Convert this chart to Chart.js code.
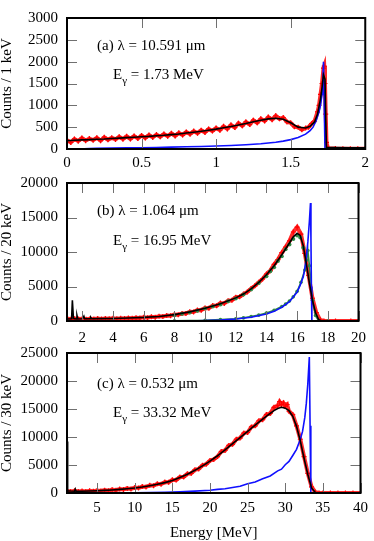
<!DOCTYPE html>
<html>
<head>
<meta charset="utf-8">
<script src="https://cdn.jsdelivr.net/npm/chart.js@4.4.0/dist/chart.umd.min.js"></script>
<style>
  html, body { margin: 0; padding: 0; background: #fff; }
  #wrap { position: relative; width: 374px; height: 541px; }
  canvas { position: absolute; left: 0; }
</style>
</head>
<body>
<div id="wrap">
  <canvas id="pa" width="374" height="175" style="top:0px"></canvas>
  <canvas id="pb" width="374" height="180" style="top:165px"></canvas>
  <canvas id="pc" width="374" height="206" style="top:335px"></canvas>
</div>
<script>
"use strict";

// ---- panel (a): lambda = 10.591 um ----
const aTicksX = [0, 0.5, 1, 1.5, 2];
const aTicksY = [0, 500, 1000, 1500, 2000, 2500, 3000];

const aRedX = [0,0.025,0.05,0.075,0.1,0.125,0.15,0.175,0.2,0.225,0.25,0.275,0.3,0.325,0.35,0.375,0.4,0.425,0.45,0.475,
  0.5,0.525,0.55,0.575,0.6,0.625,0.65,0.675,0.7,0.725,0.75,0.775,0.8,0.825,0.85,0.875,0.9,0.925,0.95,0.975,
  1.0,1.025,1.05,1.075,1.1,1.125,1.15,1.175,1.2,1.225,1.25,1.275,1.3,1.325,1.35,1.375,1.4,1.425,1.45,1.475,
  1.5,1.525,1.55,1.575,1.6,1.62,1.64,1.66,1.68,1.69,1.7,1.71,1.72,1.725,1.73,1.735,1.74,1.75,1.8,1.85,1.9,1.95,2.0];
const aRedY = [200,150,230,180,250,190,240,200,260,190,270,210,260,220,280,225,290,230,300,240,
  310,250,320,265,330,280,345,290,360,300,370,320,390,340,410,360,430,380,460,410,
  480,430,520,460,550,490,590,530,620,560,660,600,690,640,730,670,760,690,720,620,
  600,510,500,440,480,500,580,640,850,1000,1250,1500,1850,1900,1500,800,150,20,10,5,5,5,5];

const aBlackX = [0,0.05,0.1,0.15,0.2,0.25,0.3,0.35,0.4,0.45,0.5,0.55,0.6,0.65,0.7,0.75,0.8,0.85,0.9,0.95,
  1.0,1.05,1.1,1.15,1.2,1.25,1.3,1.35,1.4,1.45,1.5,1.55,1.6,1.63,1.66,1.68,1.7,1.71,1.72,1.73,1.735,1.74,1.8,1.9,2.0];
const aBlackY = [190,200,210,215,225,230,240,250,260,270,280,290,305,315,330,345,365,385,405,430,
  455,485,515,550,585,625,660,690,705,680,600,500,480,520,620,800,1150,1400,1700,1600,700,40,35,30,30];

const aBlueX = [0.08,0.15,0.2,0.3,0.4,0.5,0.6,0.7,0.8,0.9,1.0,1.1,1.2,1.3,1.4,1.45,1.5,1.55,1.6,1.63,1.65,1.67,1.69,1.7,1.71,1.715,1.72,1.725,1.73,1.8,2.0];
const aBlueY = [0,10,15,20,25,30,35,42,50,58,68,80,98,120,155,180,215,265,340,420,500,640,850,1000,1250,1500,2000,1000,0,0,0];

// ---- panel (b): lambda = 1.064 um ----
const bTicksX = [2, 4, 6, 8, 10, 12, 14, 16, 18, 20];
const bTicksY = [0, 5000, 10000, 15000, 20000];

const bRedX = [1,1.25,1.5,1.75,2,2.25,2.5,2.75,3,3.25,3.5,3.75,4,4.25,4.5,4.75,5,5.25,5.5,5.75,
  6,6.25,6.5,6.75,7,7.25,7.5,7.75,8,8.25,8.5,8.75,9,9.25,9.5,9.75,10,10.25,10.5,10.75,
  11,11.25,11.5,11.75,12,12.25,12.5,12.75,13,13.25,13.5,13.75,14,14.25,14.5,14.75,15,15.25,15.5,15.75,
  16,16.25,16.5,16.75,17,17.25,17.5,17.75,18.5,19.5,20];
const bRedY = [350,250,330,280,340,270,330,290,360,300,370,320,390,330,410,360,440,390,480,430,
  540,480,600,560,700,640,800,760,950,900,1100,1080,1350,1300,1600,1550,1900,1850,2250,2200,
  2600,2550,2950,3000,3450,3500,3900,4200,4700,5100,5600,6100,6800,7300,8200,8900,9900,10700,11600,12900,
  13600,12600,9800,6600,3300,1200,150,0,0,0,0];

const bBlackX = [1,1.3,1.35,1.42,1.6,1.65,1.7,2,2.1,2.15,2.5,2.55,2.6,3,4,5,6,7,8,9,10,11,12,
  12.5,13,13.5,14,14.5,15,15.5,15.75,16,16.2,16.4,16.6,16.8,17,17.2,17.4,17.6,20];
const bBlackY = [300,320,3000,350,300,800,300,320,700,320,330,500,330,340,370,430,520,660,920,1320,1850,2500,3350,
  3900,4650,5600,6700,8000,9600,11300,12200,12700,12400,10900,8300,5500,3000,1200,200,0,0];

const bBlueX = [9,10,11,12,13,14,14.5,15,15.5,16,16.2,16.4,16.5,16.6,16.7,16.8,16.87,16.9,16.93,16.96,20];
const bBlueY = [0,50,130,280,550,1000,1400,2000,2800,4200,5200,6400,7600,9200,11500,14500,17100,12000,5000,0,0];

const bGreenWideX = [8,8.5,9,9.5,10,10.5,11,11.5,12,12.5,13,13.5,14,14.25,14.5,14.75,15,15.25,15.5,15.75,16,16.2,16.4];
const bGreenWideY = [850,1050,1250,1500,1800,2100,2400,2850,3250,3850,4550,5500,6500,7200,7800,8700,9400,10400,11100,11900,12400,12100,10600];

const bGreenNarrowX = [1,4,8,10,11,12,12.5,13,13.5,14,14.5,15,15.25,15.5,15.75,16,16.25,16.5,16.6,16.7,16.8,17,17.2,17.4,18,20];
const bGreenNarrowY = [0,0,20,100,200,330,450,650,850,1150,1550,2100,2450,2900,3500,4300,5600,7400,8800,10200,8000,3000,800,0,0,0];

// ---- panel (c): lambda = 0.532 um ----
const cTicksX = [5, 10, 15, 20, 25, 30, 35, 40];
const cTicksY = [0, 5000, 10000, 15000, 20000, 25000];

const cRedX = [1,1.5,2,2.5,3,3.5,4,4.5,5,5.5,6,6.5,7,7.5,8,8.5,9,9.5,10,10.5,
  11,11.5,12,12.5,13,13.5,14,14.5,15,15.5,16,16.5,17,17.5,18,18.5,19,19.5,20,20.5,
  21,21.5,22,22.5,23,23.5,24,24.5,25,25.5,26,26.5,27,27.5,28,28.5,
  29,29.25,29.5,29.75,30,30.25,30.5,31,31.5,32,32.5,33,33.5,34,34.5,35,36,37,38,39,40];
const cRedY = [350,250,380,280,360,290,400,320,450,370,510,420,600,500,700,620,820,730,960,880,
  1150,1080,1380,1300,1650,1560,1950,1900,2350,2300,2850,2850,3450,3500,4150,4300,4950,5150,5800,6000,
  6500,7400,7600,8500,8700,9600,9800,10700,10800,11800,12000,12900,13100,14000,14200,15300,
  15600,16300,15800,16100,15500,15800,14600,14000,12000,9600,6500,3500,1100,150,0,0,0,0,0,0,0];

const cBlackX = [1,1.05,1.12,1.5,2,2.1,2.2,3,4,5,6,7,8,9,10,11,12,13,14,15,16,17,18,19,20,21,22,23,24,25,26,27,28,
  28.5,29,29.5,30,30.5,31,31.5,32,32.5,33,33.5,34,34.3,40];
const cBlackY = [300,9200,400,350,320,700,320,320,350,400,460,540,640,760,900,1080,1300,1550,1850,2250,2750,3350,4050,4850,5700,6650,7700,8800,9900,11000,12100,13200,14200,
  14700,15100,15300,15150,14700,13700,11900,9300,6200,3300,900,100,0,0];

const cBlueX = [8,10,12,14,16,18,20,21,22,23,24,25,26,27,28,29,29.5,30,30.5,31,31.5,32,32.3,32.6,32.8,33,33.2,33.3,33.4,40];
const cBlueY = [0,20,60,120,200,330,500,650,760,980,1200,1650,1950,2550,3050,3950,4250,5050,5650,6700,7800,9600,11000,13500,16000,19500,24300,12000,0,0];

const SERIF = "'Liberation Serif', 'Times New Roman', serif";

function pts(xs, ys) {
  return xs.map((x, i) => ({ x: x, y: ys[i] }));
}

function redSet(xs, ys) {
  return {
    data: pts(xs, ys),
    showLine: true,
    borderColor: "rgba(255, 20, 20, 0.9)",
    borderWidth: 4,
    pointStyle: "cross",
    pointRadius: 2.5,
    pointBorderColor: "#ff0000",
    pointBorderWidth: 1.2,
    order: 3,
  };
}

function lineSet(xs, ys, color, width, order) {
  return {
    data: pts(xs, ys),
    showLine: true,
    borderColor: color,
    borderWidth: width,
    pointRadius: 0,
    order: order,
  };
}

function dotSet(xs, ys, color, showLine, order, radius) {
  return {
    data: pts(xs, ys),
    showLine: showLine,
    borderColor: color,
    borderWidth: 1.6,
    pointRadius: radius,
    pointBackgroundColor: color,
    pointBorderWidth: 0,
    order: order,
  };
}

// inward ticks on all four sides, black frame and the panel text
const frameTicks = {
  id: "frameTicks",
  afterDatasetsDraw(chart, args, opts) {
    const { ctx, chartArea: a, scales } = chart;
    ctx.save();
    ctx.strokeStyle = "#707070";
    ctx.lineWidth = 1;
    ctx.beginPath();
    scales.x.ticks.forEach((t) => {
      const px = Math.round(scales.x.getPixelForValue(t.value)) + 0.5;
      ctx.moveTo(px, a.bottom);
      ctx.lineTo(px, a.bottom - 10);
      ctx.moveTo(px, a.top);
      ctx.lineTo(px, a.top + 10);
    });
    scales.y.ticks.forEach((t) => {
      const py = Math.round(scales.y.getPixelForValue(t.value)) + 0.5;
      ctx.moveTo(a.left, py);
      ctx.lineTo(a.left + 10, py);
      ctx.moveTo(a.right, py);
      ctx.lineTo(a.right - 10, py);
    });
    ctx.stroke();

    ctx.strokeStyle = "#000";
    ctx.lineWidth = 2;
    ctx.strokeRect(a.left, a.top, a.right - a.left, a.bottom - a.top);

    ctx.fillStyle = "#000";
    ctx.textBaseline = "alphabetic";
    ctx.font = "15px " + SERIF;
    ctx.fillText(opts.line1, a.left + 30, a.top + opts.y1);

    let x = a.left + 46;
    const y = a.top + opts.y2;
    ctx.fillText("E", x, y);
    x += ctx.measureText("E").width;
    ctx.font = "11px " + SERIF;
    ctx.fillText("\u03b3", x, y + 5);
    x += ctx.measureText("\u03b3").width;
    ctx.font = "15px " + SERIF;
    ctx.fillText(" = " + opts.energy, x, y);
    ctx.restore();
  },
};

function makePanel(id, cfg) {
  const tickFont = { family: SERIF, size: 15 };
  return new Chart(document.getElementById(id), {
    type: "scatter",
    data: { datasets: cfg.datasets },
    options: {
      responsive: false,
      animation: false,
      devicePixelRatio: 1,
      layout: {
        autoPadding: false,
        padding: { left: 0, right: 7, top: cfg.padTop, bottom: 0 },
      },
      plugins: {
        legend: { display: false },
        tooltip: { enabled: false },
        frameTicks: cfg.text,
      },
      scales: {
        x: {
          type: "linear",
          min: cfg.xMin,
          max: cfg.xMax,
          afterBuildTicks: (s) => {
            s.ticks = cfg.xTicks.map((v) => ({ value: v }));
          },
          afterFit: (s) => {
            s.height = cfg.xAxisH;
          },
          grid: { display: false, drawTicks: false },
          border: { display: false },
          ticks: {
            font: tickFont,
            color: "#000",
            padding: cfg.xPad,
            maxRotation: 0,
            autoSkip: false,
            callback: (v) => String(v),
          },
          title: {
            display: !!cfg.xTitle,
            text: cfg.xTitle || "",
            color: "#000",
            font: { family: SERIF, size: 15, lineHeight: 1.1 },
            padding: { top: 0, bottom: 0 },
          },
        },
        y: {
          type: "linear",
          min: 0,
          max: cfg.yMax,
          afterBuildTicks: (s) => {
            s.ticks = cfg.yTicks.map((v) => ({ value: v }));
          },
          afterFit: (s) => {
            s.width = 67;
          },
          grid: { display: false, drawTicks: false },
          border: { display: false },
          ticks: {
            font: tickFont,
            color: "#000",
            padding: 9,
            callback: (v) => String(v),
          },
          title: {
            display: true,
            text: cfg.yTitle,
            color: "#000",
            font: { family: SERIF, size: 15, lineHeight: 1 },
            padding: { top: 0, bottom: 0 },
          },
        },
      },
    },
    plugins: [frameTicks],
  });
}

makePanel("pa", {
  padTop: 7, xAxisH: 26, xPad: 5,
  xMin: 0, xMax: 2, yMax: 3000,
  xTicks: aTicksX, yTicks: aTicksY,
  yTitle: "Counts / 1 keV",
  text: { line1: "(a) \u03bb = 10.591 \u03bcm", energy: "1.73 MeV", y1: 32, y2: 61 },
  datasets: [
    redSet(aRedX, aRedY),
    dotSet(aBlueX, aBlueY, "#1010ff", true, 1, 0),
    lineSet(aBlackX, aBlackY, "#000", 1.6, 0),
  ],
});

makePanel("pb", {
  padTop: 15, xAxisH: 24, xPad: 8,
  xMin: 1, xMax: 20, yMax: 20000,
  xTicks: bTicksX, yTicks: bTicksY,
  yTitle: "Counts / 20 keV",
  text: { line1: "(b) \u03bb = 1.064 \u03bcm", energy: "16.95 MeV", y1: 32, y2: 62 },
  datasets: [
    redSet(bRedX, bRedY),
    dotSet(bGreenNarrowX, bGreenNarrowY, "#2f8a45", true, 2, 1.8),
    dotSet(bGreenWideX, bGreenWideY, "#2f8a45", false, 2, 2),
    dotSet(bBlueX, bBlueY, "#1010ff", true, 1, 0),
    lineSet(bBlackX, bBlackY, "#000", 1.6, 0),
  ],
});

makePanel("pc", {
  padTop: 15, xAxisH: 48, xPad: 6,
  xMin: 1, xMax: 40, yMax: 25000,
  xTicks: cTicksX, yTicks: cTicksY,
  yTitle: "Counts / 30 keV",
  xTitle: "Energy [MeV]",
  text: { line1: "(c) \u03bb = 0.532 \u03bcm", energy: "33.32 MeV", y1: 35, y2: 64 },
  datasets: [
    redSet(cRedX, cRedY),
    dotSet(cBlueX, cBlueY, "#1010ff", true, 1, 0),
    lineSet(cBlackX, cBlackY, "#000", 1.6, 0),
  ],
});
</script>
</body>
</html>
